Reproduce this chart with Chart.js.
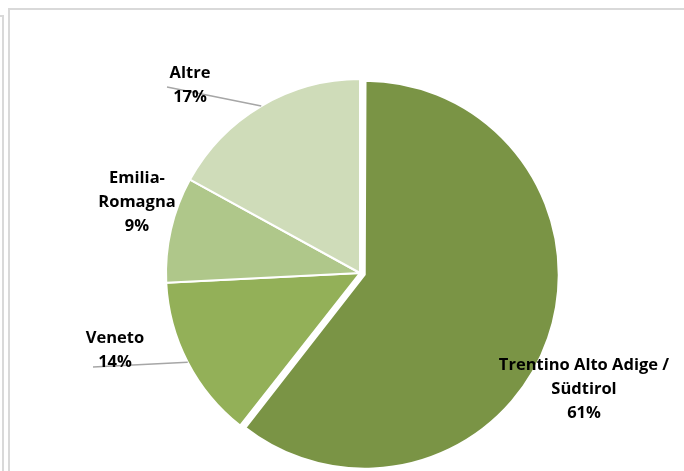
<!DOCTYPE html>
<html>
<head>
<meta charset="utf-8">
<script src="https://cdn.jsdelivr.net/npm/chart.js@4.4.0/dist/chart.umd.min.js"></script>
<style>
    html, body { margin: 0; padding: 0; background: #fff; }
    #wrap { position: relative; width: 684px; height: 471px; overflow: hidden; }
    .frame { position: absolute; border: 0 solid #d9d9d9; }
    #outerFrame { left: -20px; top: 15px; width: 22px; height: 500px; border-top-width: 2px; border-right-width: 2px; }
    #innerFrame { left: 8px; top: 8px; width: 700px; height: 500px; border-top-width: 2px; border-left-width: 2px; }
    #pieChart { position: absolute; left: 0; top: 0; }
</style>
</head>
<body>
<div id="wrap">
    <div class="frame" id="outerFrame"></div>
    <div class="frame" id="innerFrame"></div>
    <canvas id="pieChart" width="684" height="471"></canvas>
</div>
<script>
// Data
const regions = ['Trentino Alto Adige / Südtirol', 'Veneto', 'Emilia-Romagna', 'Altre'];
const regionLines = [['Trentino Alto Adige /', 'Südtirol'], ['Veneto'], ['Emilia-', 'Romagna'], ['Altre']];
const shares = [60.6, 13.6, 8.8, 17.0];
const sliceColors = ['#7a9445', '#93b058', '#afc78a', '#cfdcb9'];
const sliceOffsets = [20, 0, 0, 0];

// label block centre relative to the pie centre, and leader start relative to the label
const labelOffsets = [[224, 116], [-245, 77], [-223, -71], [-170, -188]];
const leaderStarts = [null, [-22, 17], null, [-23, 2]];

// Chart.js grows the radius of big exploded slices; keep them at the same radius as the rest
const keepRadius = {
    id: 'keepRadius',
    afterDatasetsUpdate(chart) {
        const arcs = chart.getDatasetMeta(0).data;
        arcs.forEach((arc, i) => {
            if (sliceOffsets[i] && arc.circumference >= Math.PI) {
                arc.outerRadius -= sliceOffsets[i] / 4;
            }
        });
    }
};

const sliceLabels = {
    id: 'sliceLabels',
    afterDatasetsDraw(chart) {
        const ctx = chart.ctx;
        const arcs = chart.getDatasetMeta(0).data;
        const total = shares.reduce((a, b) => a + b, 0);
        const cx = arcs[1].x;
        const cy = arcs[1].y;
        const lh = 24;

        ctx.save();
        arcs.forEach((arc, i) => {
            const lx = cx + labelOffsets[i][0];
            const ly = cy + labelOffsets[i][1];
            const lines = regionLines[i].concat([Math.round(shares[i] / total * 100) + '%']);

            if (leaderStarts[i]) {
                const mid = (arc.startAngle + arc.endAngle) / 2;
                ctx.beginPath();
                ctx.strokeStyle = '#a6a6a6';
                ctx.lineWidth = 1.5;
                ctx.moveTo(lx + leaderStarts[i][0], ly + leaderStarts[i][1]);
                ctx.lineTo(arc.x + Math.cos(mid) * arc.outerRadius, arc.y + Math.sin(mid) * arc.outerRadius);
                ctx.stroke();
            }

            ctx.fillStyle = '#000';
            ctx.font = 'bold 16.5px "Open Sans"';
            ctx.textAlign = 'center';
            ctx.textBaseline = 'middle';
            const y0 = ly - (lines.length - 1) * lh / 2;
            lines.forEach((t, k) => ctx.fillText(t, lx, y0 + k * lh));
        });
        ctx.restore();
    }
};

new Chart(document.getElementById('pieChart'), {
    type: 'pie',
    data: {
        labels: regions,
        datasets: [{
            data: shares,
            backgroundColor: sliceColors,
            borderColor: '#fff',
            borderWidth: 2,
            offset: sliceOffsets,
            radius: 194
        }]
    },
    options: {
        responsive: false,
        animation: false,
        layout: {
            padding: { left: 36, right: 0, top: 75, bottom: 0 }
        },
        plugins: {
            legend: { display: false },
            tooltip: { enabled: false }
        }
    },
    plugins: [keepRadius, sliceLabels]
});
</script>
</body>
</html>
